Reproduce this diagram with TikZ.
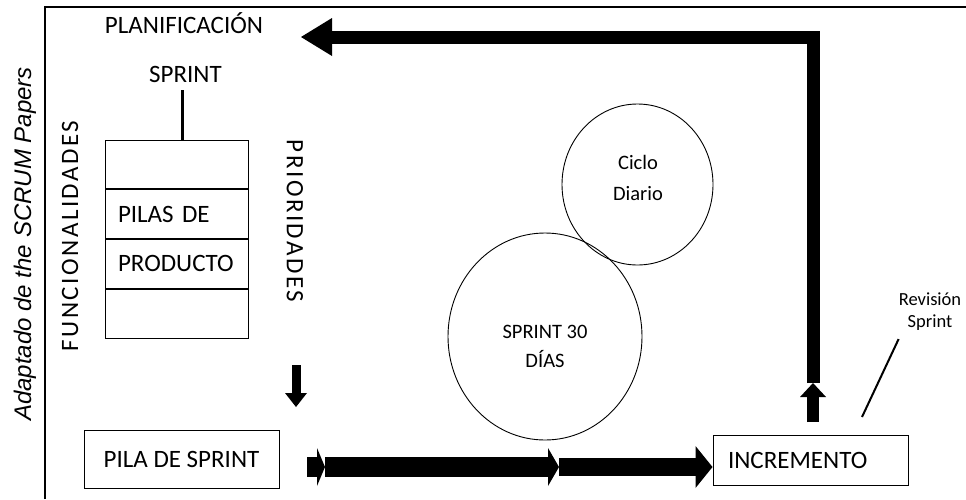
\documentclass[tikz,border=0pt]{standalone}
\usepackage{fontspec}
\setmainfont{Carlito}
\newfontfamily\arialfont{Liberation Sans}
\newfontfamily\spacedfont[LetterSpace=10]{Carlito}
\usetikzlibrary{arrows.meta,positioning,shapes.geometric}
\tikzset{
  txt/.style={inner sep=0pt,font=\fontsize{25}{30}\selectfont},
  smalltxt/.style={inner sep=0pt,align=center,font=\fontsize{20.5}{31}\selectfont},
  sidetxt/.style={inner sep=0pt,font=\spacedfont\fontsize{25}{30}\selectfont},
  rowbox/.style={
    draw,line width=1pt,minimum height=48.75pt,
    text width=117pt,inner xsep=13pt,inner ysep=0pt,align=left,
    font=\fontsize{25}{30}\selectfont
  },
  box/.style={
    draw,line width=1pt,inner ysep=0pt,
    font=\fontsize{25}{30}\selectfont
  },
  cycle/.style={draw,ellipse,line width=.9pt,inner sep=0pt},
  frame/.style={line width=1.8pt},
  bigarrow/.style={-{Triangle[length=11pt,width=38pt,line width=0pt]},line width=20pt},
  downarrow/.style={-{Triangle[length=14pt,width=22pt,line width=0pt]},line width=9pt},
  uparrow/.style={-{Triangle[length=14pt,width=26pt,line width=0pt]},line width=12pt},
  backarrow/.style={-{Triangle[length=31pt,width=38pt,line width=0pt]},line width=13pt,line join=miter}
}
\begin{document}
\begin{tikzpicture}[x=1pt,y=-1pt]
\useasboundingbox (0,0) rectangle (966,499);
\draw[frame] (45,499) -- (45,7) -- (966,7);

\node[inner sep=0pt,rotate=90,font=\arialfont\itshape\fontsize{24}{28}\selectfont]
  (source) at (25,244) {Adaptado de the SCRUM Papers};

% planificacion
\node[txt,anchor=base] (plan) at (184,33) {PLANIFICACIÓN};
\node[txt,anchor=base] (sprint) at (185.5,82) {SPRINT};

% pila de producto
\node[rowbox] (row1) at (176.5,164.4) {};
\node[rowbox,below=0pt of row1] (row2) {PILAS DE};
\node[rowbox,below=0pt of row2] (row3) {PRODUCTO};
\node[rowbox,below=0pt of row3] (row4) {};
\draw[line width=3pt] ([xshift=-3.5pt,yshift=-8pt]sprint.south) -- ([xshift=-3.5pt]sprint.south |- row1.north);

\node[sidetxt,rotate=90] (func) at (70,236) {FUNCIONALIDADES};
\node[sidetxt,rotate=-90] (prio) at (295,221) {PRIORIDADES};

\coordinate (d0) at (296,365);
\coordinate (d1) at (296,407);
\draw[downarrow] (d0) -- (d1);

% sprint
\node[box,minimum width=195pt,minimum height=58pt] (pila) at (181.5,459) {PILA DE SPRINT};
\node[box,minimum width=195pt,minimum height=50pt,text width=165pt,inner xsep=15pt,align=left]
  (incr) at (810.5,460) {INCREMENTO};

\node[cycle,minimum width=151pt,minimum height=161pt] (daily) at (637.5,184.5) {};
\node[smalltxt] (dailytxt) at (638,178) {Ciclo\\Diario};
\node[cycle,minimum width=194pt,minimum height=207pt] (month) at (545,336.5) {};
\node[smalltxt,font=\fontsize{20.5}{29}\selectfont] (monthtxt) at (545,346) {SPRINT 30\\DÍAS};

\coordinate (a0) at (307,467);
\coordinate (a1) at (325,467);
\coordinate (a2) at (559,467);
\coordinate (a3) at (incr.west |- a2);
\draw[bigarrow,-{Triangle[length=8pt,width=38pt,line width=0pt]}] (a0) -- (a1);
\draw[bigarrow] (a1) -- (a2);
\draw[bigarrow,line width=18pt,-{Triangle[length=17pt,width=42pt,line width=0pt]}] (a2) -- (a3);

% revision
\coordinate (u0) at (813,422);
\coordinate (u1) at (813,383);
\coordinate (t) at (301,37);
\draw[uparrow] (u0) -- (u1);
\draw[backarrow] (u1) |- (t);

\node[smalltxt,font=\fontsize{18.5}{22}\selectfont] (rev) at (930,312) {Revisión\\Sprint};
\coordinate (rv) at (862,417);
\draw[line width=2pt] (rv) -- ([yshift=-8pt]rev.south west);
\end{tikzpicture}
\end{document}
